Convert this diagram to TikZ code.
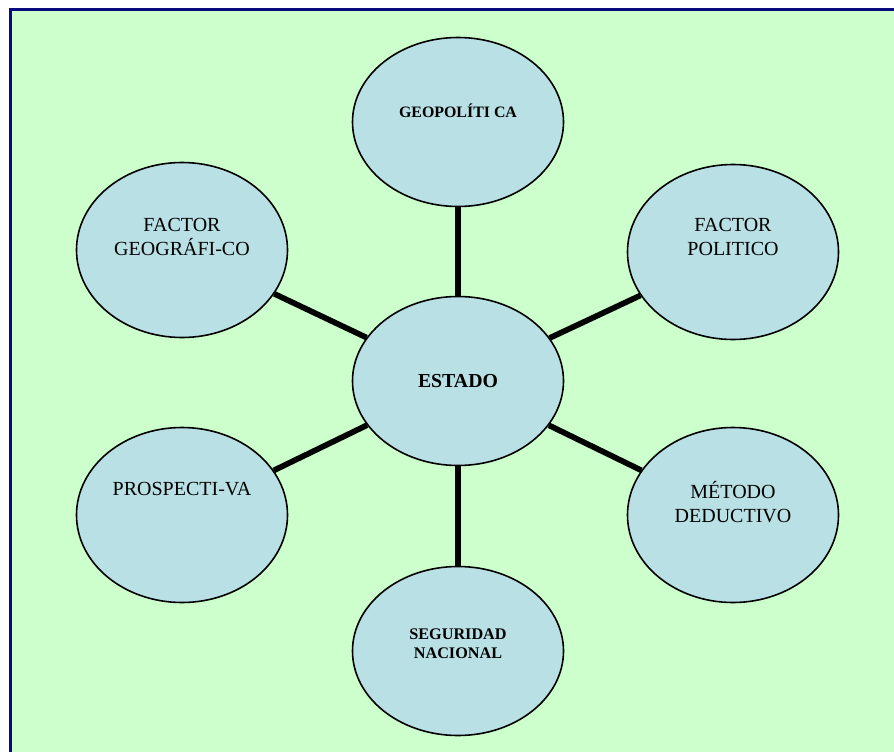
\documentclass[tikz,border=0pt]{standalone}
\usepackage{fontspec}
\setmainfont{Liberation Serif}
\usetikzlibrary{shapes.geometric}
\definecolor{bgc}{RGB}{204,255,204}
\definecolor{framec}{RGB}{10,10,128}
\definecolor{ellc}{RGB}{185,224,229}
\tikzset{
  ell/.style={ellipse, draw=black, line width=1.6pt, fill=ellc, inner sep=0pt, minimum width=211pt},
  ellc/.style={ell, minimum height=169pt},
  ells/.style={ell, minimum height=175pt},
  conn/.style={line width=5.7pt, black},
  lbl/.style={inner sep=0pt, align=center, text=black},
  reg/.style={lbl, font=\fontsize{20}{24}\selectfont},
  bld/.style={lbl, font=\fontsize{15.9}{19}\selectfont\bfseries},
}
\begin{document}
\begin{tikzpicture}[x=1pt,y=-1pt]
\useasboundingbox (0,0) rectangle (894,752);
\fill[bgc] (10,10) rectangle (894,752);
\draw[framec, line width=3pt] (896,10) -- (10,10) -- (10,754);
\node[ellc] (geo) at (458,122) {};
\node[ellc] (estado) at (458,381) {};
\node[ellc] (seg) at (458,651) {};
\node[ells] (fg) at (182,250) {};
\node[ells] (fp) at (733,252) {};
\node[ells] (pr) at (182,515) {};
\node[ells] (md) at (733,515) {};
\draw[conn] (estado) -- (geo);
\draw[conn] (estado) -- (seg);
\draw[conn] (estado) -- (fg);
\draw[conn] (estado) -- (fp);
\draw[conn] (estado) -- (pr);
\draw[conn] (estado) -- (md);
\node[bld] (tgeo) at (458,111) {GEOPOLÍTI CA};
\node[lbl, font=\fontsize{19.8}{23}\selectfont\bfseries] (testado) at (458,381) {ESTADO};
\node[bld, font=\fontsize{16.2}{19}\selectfont\bfseries] (tseg) at (458,644) {SEGURIDAD\\NACIONAL};
\node[reg] (tfg) at (182,237) {FACTOR\\GEOGRÁFI-CO};
\node[reg] (tfp) at (733,237) {FACTOR\\POLITICO};
\node[reg] (tpr) at (182,489) {PROSPECTI-VA};
\node[reg] (tmd) at (733,502) {MÉTODO\\DEDUCTIVO};
\end{tikzpicture}
\end{document}
